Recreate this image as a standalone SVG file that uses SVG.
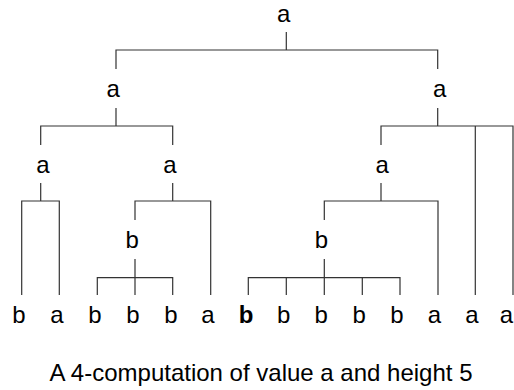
<svg xmlns="http://www.w3.org/2000/svg" width="514" height="390" viewBox="0 0 514 390">
<style>
.n{font-family:"Liberation Sans",Arial,sans-serif;font-size:24px;fill:#000;text-anchor:middle}
.e{stroke:#333;stroke-width:1.2;fill:none}
.cap{font-family:"Liberation Sans",Arial,sans-serif;font-size:24px;fill:#000;text-anchor:middle}
</style>
<rect width="514" height="390" fill="#fff"/>
<g id="connectors">
<path class="e" d="M286.3 32V50M116 69V50H437.7V69"/>
<path class="e" d="M116 108V126M40.7 145V126H172.7V145"/>
<path class="e" d="M437.7 108V126M381 145V126H513V295M475.3 126V295"/>
<path class="e" d="M40.7 183V201M21.7 295V201H59.3V295"/>
<path class="e" d="M172.7 183V201M135 220V201H210.7V295"/>
<path class="e" d="M135 259V277.7M97.3 295V277.7H172.7V295M135 277.7V295"/>
<path class="e" d="M381 183V201M324.3 220V201H438V295"/>
<path class="e" d="M324.3 259V277.7M248.3 295V277.7H400V295M286.3 277.7V295M324.3 277.7V295M362.3 277.7V295"/>
</g>
<g id="n0"><text class="n" x="283.7" y="22">a</text></g>
<g id="n1"><text class="n" x="113.3" y="97">a</text></g>
<g id="n2"><text class="n" x="439.7" y="97">a</text></g>
<g id="n3"><text class="n" x="43" y="173">a</text></g>
<g id="n4"><text class="n" x="170" y="173">a</text></g>
<g id="n5"><text class="n" x="382.3" y="173">a</text></g>
<g id="n6"><text class="n" x="132.3" y="248">b</text></g>
<g id="n7"><text class="n" x="321.5" y="248">b</text></g>
<g id="l0"><text class="n" x="19" y="323">b</text></g>
<g id="l1"><text class="n" x="57" y="323">a</text></g>
<g id="l2"><text class="n" x="95" y="323">b</text></g>
<g id="l3"><text class="n" x="133" y="323">b</text></g>
<g id="l4"><text class="n" x="171" y="323">b</text></g>
<g id="l5"><text class="n" x="208" y="323">a</text></g>
<g id="l6"><text class="n" x="246" y="323" font-weight="bold">b</text></g>
<g id="l7"><text class="n" x="283.7" y="323">b</text></g>
<g id="l8"><text class="n" x="321.3" y="323">b</text></g>
<g id="l9"><text class="n" x="359.3" y="323">b</text></g>
<g id="l10"><text class="n" x="397" y="323">b</text></g>
<g id="l11"><text class="n" x="434.5" y="323">a</text></g>
<g id="l12"><text class="n" x="472" y="323">a</text></g>
<g id="l13"><text class="n" x="506.5" y="323">a</text></g>
<text class="cap" x="261" y="381">A 4-computation of value a and height 5</text>
</svg>
